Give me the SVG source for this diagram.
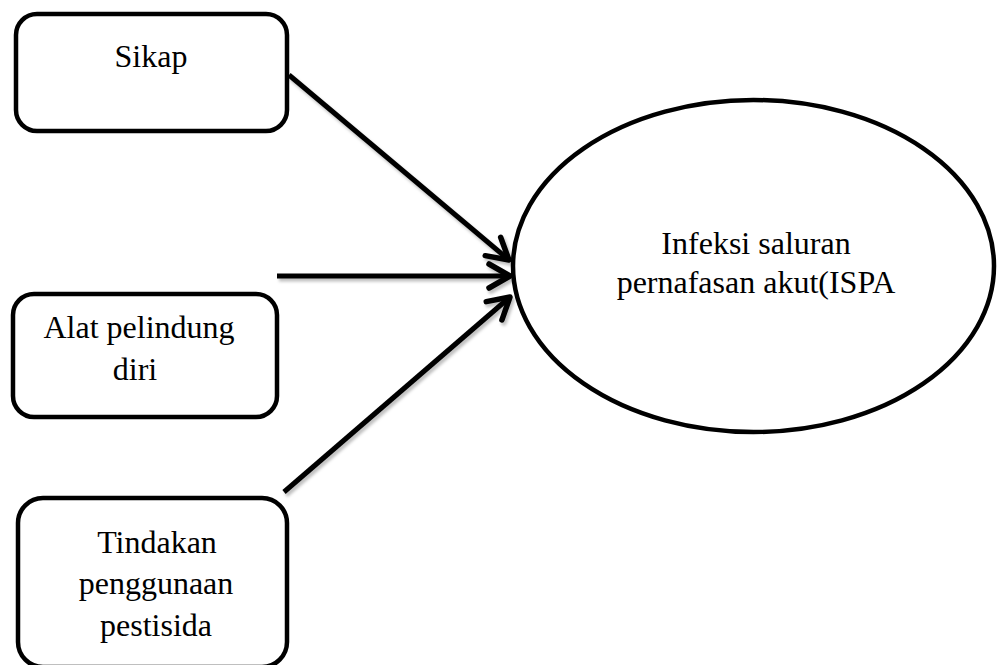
<svg xmlns="http://www.w3.org/2000/svg" width="997" height="665" viewBox="0 0 997 665">
<style>
.box{fill:#fff;stroke:#000;stroke-width:4.5}
.lbl{font-size:32px;fill:#000;text-anchor:middle}
.con{fill:none;stroke:#000;stroke-width:5}
</style>
<defs>
<marker id="arr" markerUnits="userSpaceOnUse" markerWidth="40" markerHeight="40" viewBox="-10 -20 40 40" refX="20" refY="0" orient="auto">
<path d="M-1,-12 L20,0 L-1,12" fill="none" stroke="#000" stroke-width="5.5" stroke-linecap="round" stroke-linejoin="round"/>
</marker>
<filter id="sh" x="-10%" y="-10%" width="130%" height="130%">
<feDropShadow dx="2" dy="3" stdDeviation="1.5" flood-color="#000" flood-opacity="0.25"/>
</filter>
</defs>
<rect width="997" height="665" fill="#fff"/>
<g id="connectors" filter="url(#sh)">
<line class="con" x1="289" y1="75" x2="509" y2="260" marker-end="url(#arr)"/>
<line class="con" x1="277" y1="276" x2="510" y2="276" marker-end="url(#arr)"/>
<line class="con" x1="284" y1="492" x2="510" y2="297" marker-end="url(#arr)"/>
</g>
<g font-family="Liberation Serif, Times New Roman, DejaVu Serif, serif">
<g id="sikap">
<rect class="box" x="16" y="14" width="271" height="117" rx="21"/>
<text class="lbl" x="151" y="67">Sikap</text>
</g>
<g id="apd">
<rect class="box" x="13" y="294" width="264" height="123" rx="21"/>
<text class="lbl" x="139" y="338">Alat pelindung</text>
<text class="lbl" x="135" y="380">diri</text>
</g>
<g id="tindakan">
<rect class="box" x="18" y="498" width="269" height="169" rx="25"/>
<text class="lbl" x="157" y="553">Tindakan</text>
<text class="lbl" x="156" y="594">penggunaan</text>
<text class="lbl" x="156" y="636">pestisida</text>
</g>
<g id="ispa">
<ellipse class="box" cx="753.5" cy="266" rx="240.5" ry="166" stroke-width="4"/>
<text class="lbl" x="756" y="254">Infeksi saluran</text>
<text class="lbl" x="756" y="293">pernafasan akut(ISPA</text>
</g>
</g>
</svg>
